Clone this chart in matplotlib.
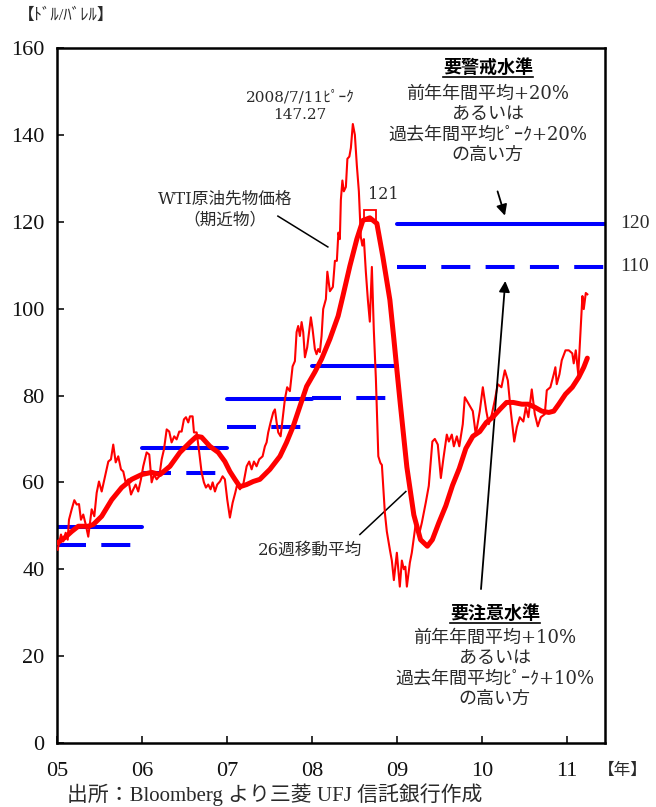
import numpy as np
import matplotlib.pyplot as plt
from matplotlib.patches import Rectangle
from matplotlib.lines import Line2D
import matplotlib.transforms as mtransforms

plt.rcParams['font.family'] = ['Liberation Serif', 'Noto Sans CJK JP']

# WTI weekly price (decimal year, USD/bbl)
price_t = [
    2005.008, 2005.024, 2005.047, 2005.074, 2005.102, 2005.126, 2005.141, 2005.173,
    2005.204, 2005.232, 2005.259, 2005.282, 2005.309, 2005.338, 2005.368, 2005.388,
    2005.408, 2005.439, 2005.467, 2005.494, 2005.526, 2005.565, 2005.604, 2005.635,
    2005.662, 2005.691, 2005.721, 2005.753, 2005.780, 2005.808, 2005.839, 2005.871,
    2005.898, 2005.926, 2005.956, 2005.988, 2006.015, 2006.055, 2006.086, 2006.114,
    2006.141, 2006.173, 2006.204, 2006.232, 2006.259, 2006.291, 2006.321, 2006.349,
    2006.380, 2006.408, 2006.439, 2006.467, 2006.494, 2006.518, 2006.545, 2006.565,
    2006.596, 2006.612, 2006.644, 2006.674, 2006.702, 2006.729, 2006.753, 2006.780,
    2006.808, 2006.832, 2006.859, 2006.886, 2006.918, 2006.949, 2006.976, 2007.004,
    2007.035, 2007.067, 2007.098, 2007.121, 2007.153, 2007.192, 2007.232, 2007.262,
    2007.291, 2007.318, 2007.349, 2007.380, 2007.420, 2007.447, 2007.467, 2007.486,
    2007.514, 2007.545, 2007.565, 2007.585, 2007.604, 2007.632, 2007.655, 2007.682,
    2007.709, 2007.741, 2007.773, 2007.800, 2007.820, 2007.839, 2007.859, 2007.879,
    2007.898, 2007.918, 2007.945, 2007.968, 2007.988, 2008.008, 2008.035, 2008.055,
    2008.074, 2008.094, 2008.114, 2008.133, 2008.165, 2008.182, 2008.212, 2008.247,
    2008.271, 2008.294, 2008.312, 2008.329, 2008.341, 2008.359, 2008.376, 2008.400,
    2008.418, 2008.441, 2008.459, 2008.482, 2008.506, 2008.529, 2008.553, 2008.576,
    2008.594, 2008.612, 2008.635, 2008.659, 2008.682, 2008.706, 2008.729, 2008.753,
    2008.782, 2008.806, 2008.824, 2008.859, 2008.882, 2008.918, 2008.941, 2008.965,
    2009.000, 2009.035, 2009.059, 2009.082, 2009.100, 2009.118, 2009.153, 2009.176,
    2009.219, 2009.259, 2009.294, 2009.341, 2009.376, 2009.418, 2009.447, 2009.482,
    2009.518, 2009.548, 2009.588, 2009.612, 2009.647, 2009.671, 2009.706, 2009.735,
    2009.776, 2009.800, 2009.835, 2009.894, 2009.929, 2009.976, 2010.012, 2010.053,
    2010.082, 2010.118, 2010.153, 2010.188, 2010.231, 2010.271, 2010.306, 2010.341,
    2010.382, 2010.412, 2010.447, 2010.489, 2010.518, 2010.548, 2010.588, 2010.624,
    2010.659, 2010.694, 2010.741, 2010.765, 2010.807, 2010.847, 2010.866, 2010.882,
    2010.914, 2010.941, 2010.985, 2011.024, 2011.065, 2011.082, 2011.106, 2011.135,
    2011.165, 2011.184, 2011.200, 2011.224, 2011.242,
]
price_v = [
    44.5, 46.0, 48.0, 46.4, 48.4, 46.8, 51.4, 53.8,
    55.9, 54.9, 55.0, 51.4, 52.6, 50.3, 47.5, 50.7,
    53.8, 52.2, 57.6, 60.2, 57.9, 61.4, 64.8, 65.3,
    68.7, 64.6, 66.0, 63.0, 62.5, 60.0, 60.7, 57.2,
    58.4, 59.5, 57.9, 60.7, 63.7, 66.9, 66.4, 60.0,
    61.8, 60.7, 61.4, 65.3, 67.6, 72.2, 71.7, 69.2,
    70.6, 69.9, 71.7, 71.7, 74.5, 75.0, 73.8, 75.2,
    75.2, 71.5, 71.5, 66.9, 62.3, 60.0, 58.8, 59.5,
    58.4, 60.0, 57.9, 59.5, 60.2, 61.4, 60.7, 56.0,
    51.9, 55.3, 57.6, 59.5, 58.4, 59.5, 63.7, 64.8,
    63.0, 64.8, 63.7, 65.3, 66.0, 68.3, 69.2, 71.5,
    73.8, 76.1, 76.8, 73.8, 71.5, 70.6, 74.5, 79.1,
    81.9, 81.0, 86.7, 87.9, 94.6, 96.0, 93.7, 96.9,
    94.6, 88.8, 91.1, 94.8, 98.0, 95.3, 90.7, 89.5,
    90.7, 90.0, 93.7, 99.9, 102.2, 108.5, 104.0, 105.0,
    111.0, 111.0, 117.5, 116.0, 125.0, 129.5, 127.0, 128.0,
    134.5, 135.0, 137.0, 142.5, 140.0, 133.0, 127.0, 116.5,
    114.5, 116.0, 108.5, 102.0, 97.0, 109.6, 95.0, 84.0,
    66.0, 64.5, 64.0, 53.0, 48.7, 44.5, 42.0, 37.5,
    43.8, 36.0, 42.0, 40.0, 40.6, 36.0, 41.5, 43.8,
    50.0, 47.8, 50.7, 55.4, 59.2, 69.4, 70.0, 68.7,
    61.0, 65.5, 71.0, 69.4, 71.0, 68.3, 70.6, 68.3,
    73.4, 79.6, 78.4, 76.4, 71.0, 76.4, 81.9, 76.4,
    73.4, 75.7, 78.9, 82.6, 81.9, 85.8, 83.5, 76.4,
    69.4, 72.7, 75.0, 74.0, 77.3, 75.0, 81.4, 75.7,
    72.9, 75.0, 75.7, 81.2, 81.9, 84.9, 86.5, 82.6,
    84.9, 88.1, 90.4, 90.4, 89.7, 87.4, 90.4, 84.9,
    96.0, 102.9, 99.9, 103.6, 103.3,
]

# 26-week moving average
ma_t = [
    2005.008, 2005.094, 2005.173, 2005.251, 2005.368, 2005.427, 2005.526, 2005.644,
    2005.761, 2005.879, 2005.996, 2006.114, 2006.212, 2006.329, 2006.447, 2006.565,
    2006.644, 2006.702, 2006.800, 2006.898, 2006.976, 2007.035, 2007.094, 2007.153,
    2007.232, 2007.309, 2007.388, 2007.506, 2007.624, 2007.702, 2007.780, 2007.859,
    2007.938, 2008.035, 2008.114, 2008.212, 2008.309, 2008.365, 2008.447, 2008.529,
    2008.600, 2008.682, 2008.765, 2008.835, 2008.918, 2008.965, 2009.000, 2009.041,
    2009.118, 2009.200, 2009.279, 2009.359, 2009.418, 2009.494, 2009.576, 2009.655,
    2009.735, 2009.812, 2009.894, 2009.976, 2010.053, 2010.129, 2010.212, 2010.291,
    2010.371, 2010.471, 2010.548, 2010.624, 2010.706, 2010.788, 2010.847, 2010.906,
    2010.985, 2011.065, 2011.141, 2011.200, 2011.242,
]
ma_v = [
    46.1, 47.3, 48.7, 49.9, 49.9, 50.3, 52.2, 56.0,
    58.8, 60.7, 61.8, 62.3, 61.8, 63.7, 66.9, 69.2,
    70.6, 70.4, 68.3, 66.9, 64.8, 62.5, 60.7, 59.0,
    59.5, 60.2, 60.7, 63.0, 66.0, 69.2, 72.9, 77.5,
    82.1, 85.4, 88.4, 93.0, 98.3, 102.9, 109.8, 116.0,
    120.3, 120.9, 119.6, 112.0, 102.0, 93.0, 86.0, 78.0,
    63.5, 52.5, 46.8, 45.3, 46.8, 50.7, 54.6, 59.3,
    63.2, 67.8, 70.6, 71.7, 73.8, 75.0, 76.8, 78.4,
    78.4, 78.0, 78.0, 77.3, 76.4, 76.1, 76.4, 78.0,
    80.3, 81.9, 84.2, 86.5, 88.6,
]

# alert levels per year (solid = 要警戒, dashed = 要注意)
level_start = [2005, 2006, 2007, 2008, 2009]
level_end = [2006, 2007, 2008, 2009, 2011.45]
alert_lv = [49.7, 67.9, 79.3, 86.8, 119.5]
caution_lv = [45.5, 62.2, 72.7, 79.5, 109.6]

year_ticks = [2005, 2006, 2007, 2008, 2009, 2010, 2011]
year_labels = ['05', '06', '07', '08', '09', '10', '11']

TXT = '#2a2a2a'
ANN_FONT = ['DejaVu Serif', 'Noto Sans CJK JP']

fig = plt.figure(figsize=(6.56, 8.07), dpi=100)
ax = fig.add_axes([57 / 656, 1 - 743 / 807, 548 / 656, 695 / 807])

# level lines
for x0, x1, a, c in zip(level_start, level_end, alert_lv, caution_lv):
    ax.plot([x0, x1], [a, a], color='#0000ff', lw=2.9, solid_capstyle='round', zorder=2)
    ax.plot([x0, x1], [c, c], color='#0000ff', lw=2.9, linestyle=(0, (7.2, 3.8)),
            dash_capstyle='butt', zorder=2)

# price + moving average
ax.plot(price_t, price_v, color='#ff0000', lw=1.5, zorder=3)
ax.plot(ma_t, ma_v, color='#ff0000', lw=3.6, solid_capstyle='round',
        solid_joinstyle='round', zorder=4)

# box around MA peak
ax.add_patch(Rectangle((2008.612, 120.2), 0.141, 2.5, fill=False,
                       edgecolor='#ff0000', lw=1.3, zorder=5))

ax.set_xlim(2005, 2011.45)
ax.set_ylim(0, 160)
ax.set_yticks(np.arange(0, 161, 20))
ax.set_xticks(year_ticks)
ax.set_xticklabels(year_labels)
ax.tick_params(direction='in', length=5, width=1.2, labelsize=16, colors='#111')
ax.tick_params(axis='y', pad=9)
ax.tick_params(axis='x', pad=14)
for s in ax.spines.values():
    s.set_linewidth(1.8)

# annotations
ax.text(2007.859, 146.6, '2008/7/11ﾋﾟｰｸ\n147.27', ha='center', va='center',
        fontsize=11, color=TXT, linespacing=1.3, family=ANN_FONT)
ax.text(2006.976, 122.8, 'WTI原油先物価格\n（期近物）', ha='center', va='center',
        fontsize=12, color=TXT, linespacing=1.25, family=ANN_FONT)
ax.plot([2007.60, 2008.188], [121.3, 114.2], color='black', lw=1.1)
ax.text(2008.835, 126.2, '121', ha='center', va='center', fontsize=11.5,
        color=TXT, family=ANN_FONT)
ax.text(2007.976, 44.3, '26週移動平均', ha='center', va='center', fontsize=12,
        color=TXT, family=ANN_FONT)
ax.plot([2008.565, 2009.106], [48.0, 57.9], color='black', lw=1.1)

lbl_tr = mtransforms.blended_transform_factory(ax.transAxes, ax.transData)
ax.text(1.028, 119.5, '120', transform=lbl_tr, ha='left', va='center',
        fontsize=14, color=TXT, clip_on=False)
ax.text(1.028, 109.6, '110', transform=lbl_tr, ha='left', va='center',
        fontsize=14, color=TXT, clip_on=False)

head1 = ax.text(2010.07, 155.5, '要警戒水準', ha='center', va='center',
                fontsize=13, fontweight='bold', color='black')
for i, s in enumerate(['前年年間平均+20%', 'あるいは', '過去年間平均ﾋﾟｰｸ+20%', 'の高い方']):
    ax.text(2010.07, 149.5 - i * 4.68, s, ha='center', va='center', fontsize=13,
            color=TXT, family=ANN_FONT)

head2 = ax.text(2010.153, 29.8, '要注意水準', ha='center', va='center',
                fontsize=13, fontweight='bold', color='black')
for i, s in enumerate(['前年年間平均+10%', 'あるいは', '過去年間平均ﾋﾟｰｸ+10%', 'の高い方']):
    ax.text(2010.153, 24.2 - i * 4.68, s, ha='center', va='center', fontsize=13,
            color=TXT, family=ANN_FONT)

ax.annotate('', xy=(2010.282, 120.8), xytext=(2010.176, 127.6),
            arrowprops=dict(arrowstyle='-|>', color='black', lw=1.3, mutation_scale=16))
ax.annotate('', xy=(2010.279, 107.0), xytext=(2009.988, 34.8),
            arrowprops=dict(arrowstyle='-|>', color='black', lw=1.3, mutation_scale=16))

fig.text(18 / 656, 1 - 16 / 807, '【ﾄﾞﾙ/ﾊﾞﾚﾙ】', ha='left', va='center', fontsize=12, color=TXT)
fig.text(598 / 656, 1 - 771 / 807, '【年】', ha='left', va='center', fontsize=12, color=TXT)
fig.text(67 / 656, 1 / 807, '出所：Bloomberg より三菱 UFJ 信託銀行作成',
         ha='left', va='bottom', fontsize=15, color=TXT)

# underline the two headings
fig.canvas.draw()
for h in (head1, head2):
    bb = h.get_window_extent()
    y = bb.y0 - 1
    fig.add_artist(Line2D([bb.x0 / 656, bb.x1 / 656], [y / 807, y / 807],
                          color='black', lw=1.2, transform=fig.transFigure))

fig.savefig('out.png', dpi=100)
